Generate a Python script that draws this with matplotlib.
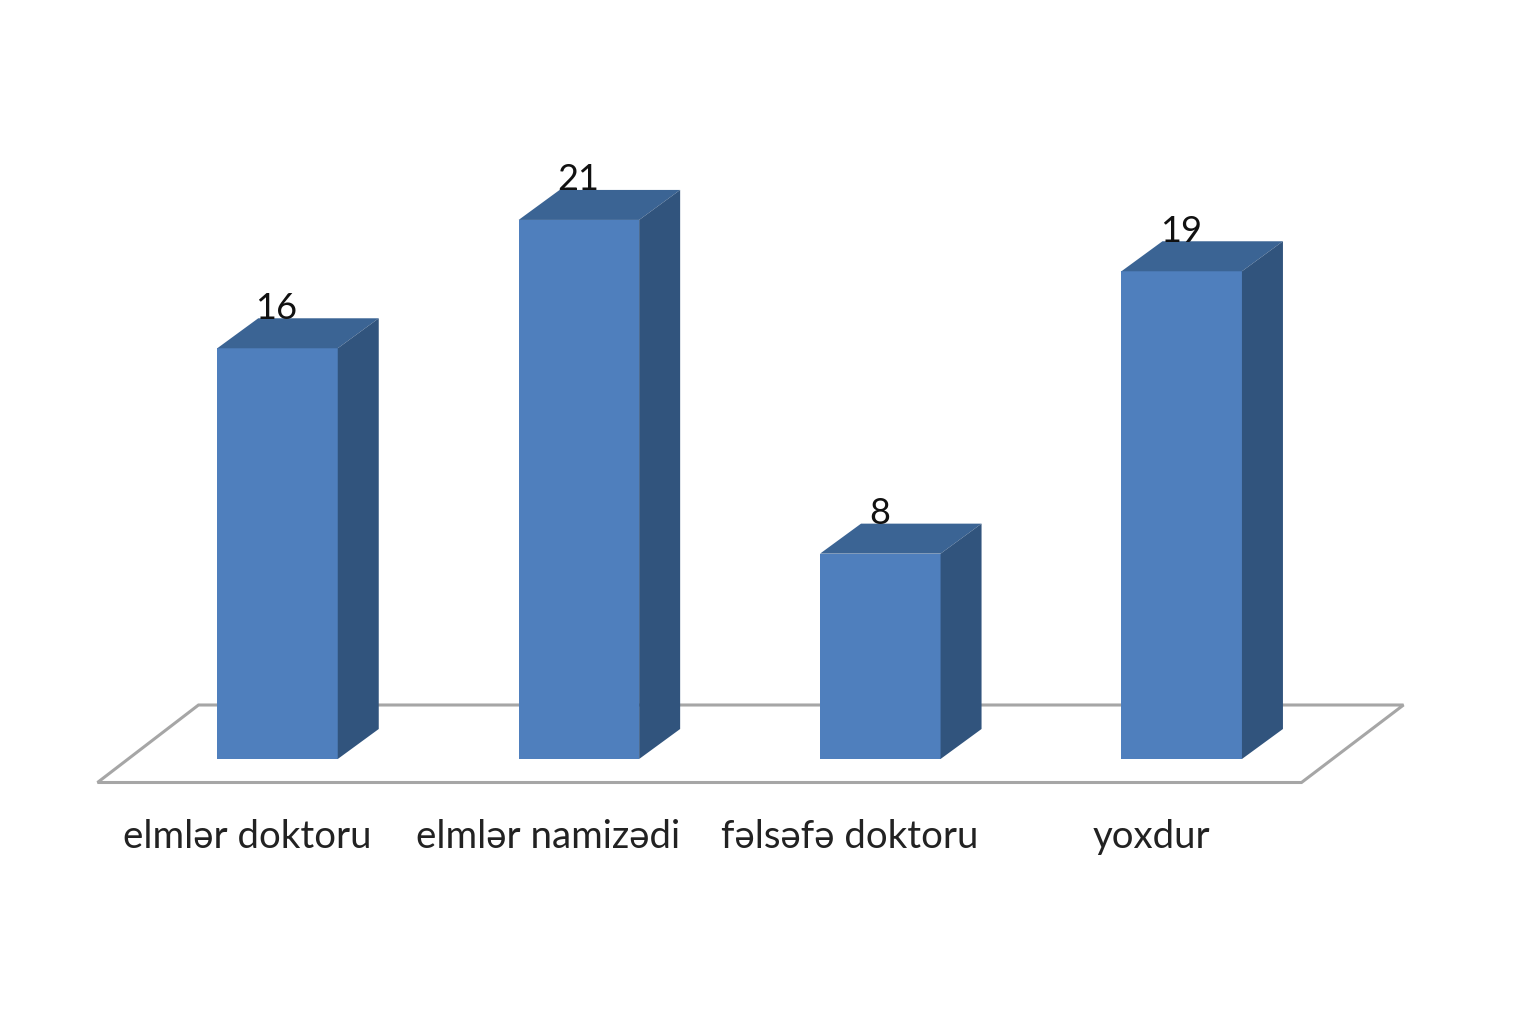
import matplotlib
matplotlib.use("Agg")
import matplotlib.pyplot as plt
from matplotlib.patches import Polygon

categories = ["elmlər doktoru", "elmlər namizədi", "fəlsəfə doktoru", "yoxdur"]
values = [16, 21, 8, 19]

FRONT = "#4f7fbd"
TOP = "#3b6494"
SIDE = "#31547d"
FLOOR = "#a6a6a6"

W, H = 1527, 1024
step = 301.4      # px between bars
unit = 25.67      # px per value
x0_px, y0_px = 277.5, 759
bar_w = 120.5 / step
dx = 41 / step    # 3d depth
dy = 30 / unit


def main():
    plt.rcParams["font.family"] = ["Lato", "DejaVu Sans"]
    fig = plt.figure(figsize=(W / 100, H / 100), dpi=100)
    ax = fig.add_axes([0, 0, 1, 1])
    ax.set_xlim(-x0_px / step, (W - x0_px) / step)
    ax.set_ylim((y0_px - H) / unit, y0_px / unit)
    ax.axis("off")

    # floor
    left = -180 / step
    right = 1024 / step
    low = -23.5 / unit
    ax.add_patch(Polygon([(left, low), (left + 101 / step, 54 / unit),
                          (right + 102 / step, 54 / unit), (right, low)],
                         closed=True, fc="white", ec=FLOOR, lw=2.2, zorder=1))

    xs = list(range(len(values)))
    ax.bar(xs, values, width=bar_w, color=FRONT, zorder=3)
    for x, v in zip(xs, values):
        l = x - bar_w / 2
        r = x + bar_w / 2
        ax.add_patch(Polygon([(l, v), (l + dx, v + dy), (r + dx, v + dy), (r, v)],
                             closed=True, fc=TOP, ec="none", zorder=3))
        ax.add_patch(Polygon([(r, 0), (r + dx, dy), (r + dx, v + dy), (r, v)],
                             closed=True, fc=SIDE, ec="none", zorder=3))
        ax.text(x - 1 / step, v + 40 / unit, str(v), ha="center", va="center",
                fontsize=26, color="#111111", zorder=4)

    for x, c in zip(xs, categories):
        ax.text(x - 30.5 / step, -78 / unit, c, ha="center", va="center",
                fontsize=27.6, color="#222222", zorder=4)

    fig.savefig("out.png", dpi=100, facecolor="white")


if __name__ == "__main__":
    main()
